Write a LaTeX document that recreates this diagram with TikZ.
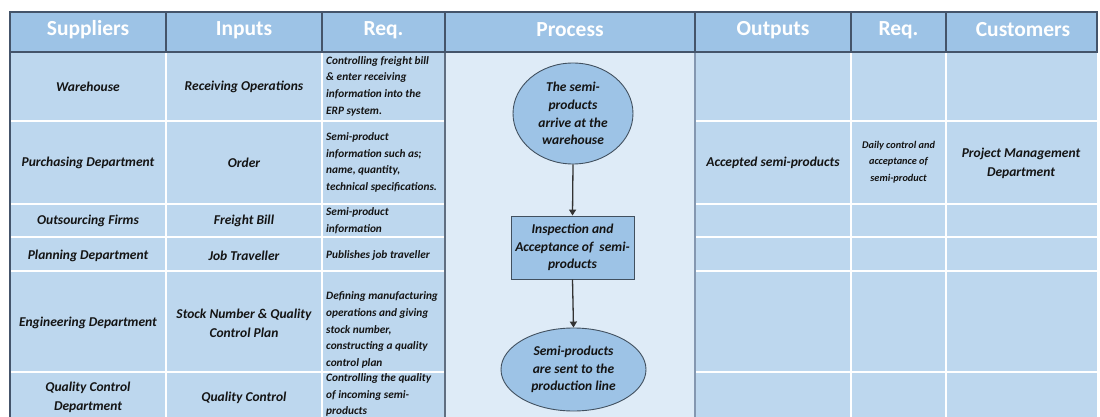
\documentclass[tikz,border=0pt]{standalone}
\usepackage{fontspec}
\setmainfont{Carlito}
\usetikzlibrary{arrows.meta,shapes.geometric}
\definecolor{hdr}{HTML}{9DC3E6}
\definecolor{cell}{HTML}{BDD7EE}
\definecolor{proc}{HTML}{DEEBF7}
\definecolor{edgec}{HTML}{44546A}
\definecolor{procedge}{HTML}{8497B0}
\definecolor{shp}{HTML}{9DC3E6}
\definecolor{shpline}{HTML}{41505F}
\definecolor{txt}{HTML}{141414}
\begin{document}
\begin{tikzpicture}[x=1pt,y=-1pt,
  hdrtext/.style={text=white,inner sep=0,font=\fontsize{21.5}{25}\selectfont\bfseries},
  celltext/.style={text=txt,inner sep=0,align=center,font=\fontsize{13.5}{19}\selectfont\bfseries\itshape},
  reqtext/.style={text=txt,inner sep=0,align=left,anchor=west,font=\fontsize{11.3}{16.7}\selectfont\bfseries\itshape},
  smalltext/.style={text=txt,inner sep=0,align=center,font=\fontsize{10.3}{16.8}\selectfont\bfseries\itshape},
  procshape/.style={draw=shpline,fill=shp,line width=0.9pt,inner sep=0,align=center,text=txt,font=\fontsize{13.5}{17.7}\selectfont\bfseries\itshape},
  ovalbox/.style={procshape,ellipse},
  rectbox/.style={procshape,rectangle},
  whiteline/.style={white,line width=2pt},
  flowarrow/.style={draw=black!80,line width=1.3pt,-{Triangle[length=6pt,width=7pt]}}
]
\useasboundingbox (0,0) rectangle (1100,417);
\clip (0,0) rectangle (1100,417);
\fill[white] (0,0) rectangle (1100,417);
% body
\fill[cell] (10,52) rectangle (1097,425);
\fill[proc] (445,52) rectangle (695,425);
% white horizontal lines
\foreach \y in {121,204,237,271,372} {
  \draw[whiteline] (10,\y) -- (445,\y);
  \draw[whiteline] (695,\y) -- (1097,\y);
}
% white vertical lines
\foreach \x in {166,322,851,946} {
  \draw[whiteline] (\x,52) -- (\x,425);
}
% dark verticals
\draw[edgec,line width=1.3pt] (10,52) -- (10,425);
\draw[edgec!85,line width=1.3pt] (445,52) -- (445,425);
\draw[procedge,line width=2.2pt] (695,52) -- (695,425);
% header
\fill[hdr] (10,12) rectangle (1097,52);
\draw[edgec,line width=1.2pt] (10,12) rectangle (1097,52);
\foreach \x in {166,322,445,695,851,946} {
  \draw[edgec,line width=1.2pt] (\x,12) -- (\x,52);
}
\node[hdrtext] (h1) at (88,30) {Suppliers};
\node[hdrtext] (h2) at (244,30) {Inputs};
\node[hdrtext] (h3) at (383.5,30) {Req.};
\node[hdrtext] (h4) at (570,30) {Process};
\node[hdrtext] (h5) at (773,30) {Outputs};
\node[hdrtext] (h6) at (898.5,30) {Req.};
\node[hdrtext] (h7) at (1023,30) {Customers};
% suppliers
\node[celltext] (s1) at (88,87) {Warehouse};
\node[celltext] (s2) at (88,163) {Purchasing Department};
\node[celltext] (s3) at (88,221) {Outsourcing Firms};
\node[celltext] (s4) at (88,256) {Planning Department};
\node[celltext] (s5) at (88,323) {Engineering Department};
\node[celltext] (s6) at (88,397) {Quality Control\\Department};
% inputs
\node[celltext] (i1) at (244,87) {Receiving Operations};
\node[celltext] (i2) at (244,163) {Order};
\node[celltext] (i3) at (244,221) {Freight Bill};
\node[celltext] (i4) at (244,256) {Job Traveller};
\node[celltext] (i5) at (244,323) {Stock Number \& Quality\\Control Plan};
\node[celltext] (i6) at (244,398) {Quality Control};
% req
\node[reqtext] (q1) at (326,86) {Controlling freight bill\\\& enter receiving\\information into the\\ERP system.};
\node[reqtext] (q2) at (326,162.5) {Semi-product\\information such as;\\name, quantity,\\technical specifications.};
\node[reqtext] (q3) at (326,221) {Semi-product\\information};
\node[reqtext] (q4) at (326,255) {Publishes job traveller};
\node[reqtext] (q5) at (326,330) {Defining manufacturing\\operations and giving\\stock number,\\constructing a quality\\control plan};
\node[reqtext] (q6) at (326,395) {Controlling the quality\\of incoming semi-\\products};
% process
\node[ovalbox,minimum width=120pt,minimum height=101pt] (p1) at (573,113.5) {The semi-\\products\\arrive at the\\warehouse};
\node[rectbox,minimum width=123pt,minimum height=63pt] (p2) at (572.5,247.5) {Inspection and\\Acceptance of\ \ semi-\\products};
\node[ovalbox,minimum width=145pt,minimum height=83pt] (p3) at (573.5,369.5) {Semi-products\\are sent to the\\production line};
\draw[flowarrow] (p1.south) -- (p2.north);
\draw[flowarrow] (p2.south) -- (p3.north);
% outputs
\node[celltext] (o2) at (773,163) {Accepted semi-products};
\node[smalltext] (r2) at (898.5,162) {Daily control and\\acceptance of\\semi-product};
\node[celltext] (c2) at (1021,163) {Project Management\\Department};
\end{tikzpicture}
\end{document}
